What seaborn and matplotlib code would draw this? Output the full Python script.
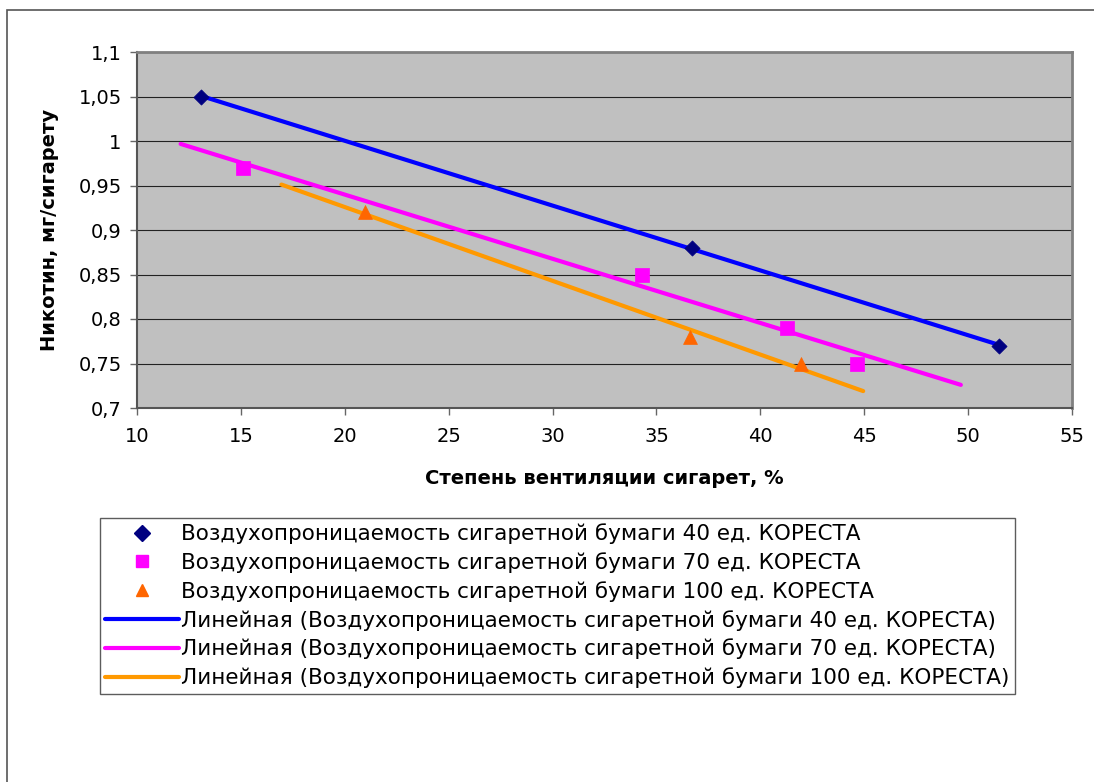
import numpy as np
import pandas as pd
import matplotlib
matplotlib.use("Agg")
import matplotlib.pyplot as plt
import seaborn as sns
from matplotlib.lines import Line2D
from matplotlib.patches import Rectangle

# Data
vent_40 = [13.1, 36.7, 51.5]
nic_40 = [1.05, 0.88, 0.77]
vent_70 = [15.1, 34.3, 41.3, 44.65]
nic_70 = [0.97, 0.85, 0.79, 0.75]
vent_100 = [20.95, 36.6, 41.95]
nic_100 = [0.92, 0.78, 0.75]

# trend line extent (Excel forecast backward / forward)
trend_back = [0, 3, 4]
trend_fwd = [0, 5, 3]

series_names = [
    "Воздухопроницаемость сигаретной бумаги 40 ед. КОРЕСТА",
    "Воздухопроницаемость сигаретной бумаги 70 ед. КОРЕСТА",
    "Воздухопроницаемость сигаретной бумаги 100 ед. КОРЕСТА",
]
x_ticks = [10, 15, 20, 25, 30, 35, 40, 45, 50, 55]
y_ticks = [0.7, 0.75, 0.8, 0.85, 0.9, 0.95, 1.0, 1.05, 1.1]
y_tick_labels = ["0,7", "0,75", "0,8", "0,85", "0,9", "0,95", "1", "1,05", "1,1"]

marker_colors = ["#000080", "#FF00FF", "#FF6600"]
line_colors = ["#0000FF", "#FF00FF", "#FF9900"]
markers = ["D", "s", "^"]
marker_sizes = [60, 110, 100]

sns.set_style("white")
plt.rcParams['font.family'] = ['DejaVu Sans']
plt.rcParams['text.color'] = 'black'
plt.rcParams['axes.labelcolor'] = 'black'
plt.rcParams['xtick.labelcolor'] = 'black'
plt.rcParams['ytick.labelcolor'] = 'black'

fig = plt.figure(figsize=(10.94, 7.82), dpi=100)
ax = fig.add_axes([137 / 1094, 1 - 408 / 782, (1072 - 137) / 1094, (408 - 52) / 782])
ax.set_facecolor("#C0C0C0")

# outer chart frame (cropped on right and bottom)
fig.patches.append(Rectangle((7 / 1094, -0.1), 1.2, 1 - 10 / 782 + 0.1,
                             transform=fig.transFigure, fill=False,
                             edgecolor="#555555", linewidth=1.2))

xs_all = [vent_40, vent_70, vent_100]
ys_all = [nic_40, nic_70, nic_100]

for i in range(3):
    df = pd.DataFrame({"x": xs_all[i], "y": ys_all[i]})
    k, b = np.polyfit(df["x"], df["y"], 1)
    x0 = df["x"].min() - trend_back[i]
    x1 = df["x"].max() + trend_fwd[i]
    trend = pd.DataFrame({"x": [x0, x1], "y": [k * x0 + b, k * x1 + b]})
    sns.lineplot(data=trend, x="x", y="y", ax=ax, color=line_colors[i],
                 linewidth=3, zorder=3)
    sns.scatterplot(data=df, x="x", y="y", ax=ax, marker=markers[i],
                    color=marker_colors[i], s=marker_sizes[i],
                    edgecolor=marker_colors[i], linewidth=0.5, zorder=4)

ax.set_xlim(10, 55)
ax.set_ylim(0.7, 1.1)
ax.set_xticks(x_ticks)
ax.set_yticks(y_ticks)
ax.set_yticklabels(y_tick_labels)
ax.tick_params(axis="both", direction="out", length=5, width=1, color="#666666",
               labelsize=14, left=True, bottom=True)
ax.tick_params(axis="x", pad=9)
ax.tick_params(axis="y", pad=6)
ax.yaxis.grid(True, color="#222222", linewidth=0.8)
ax.xaxis.grid(False)
ax.set_axisbelow(True)
for side in ["top", "right"]:
    ax.spines[side].set_color("#808080")
    ax.spines[side].set_linewidth(2)
for side in ["left", "bottom"]:
    ax.spines[side].set_color("#555555")
    ax.spines[side].set_linewidth(1.5)

ax.set_xlabel("Степень вентиляции сигарет, %", fontsize=14, fontweight="bold",
              labelpad=16)
ax.set_ylabel("Никотин, мг/сигарету", fontsize=14, fontweight="bold", labelpad=14)

handles = []
labels = []
for i in range(3):
    handles.append(Line2D([], [], linestyle="none", marker=markers[i],
                          color=marker_colors[i], markersize=8))
    labels.append(series_names[i])
for i in range(3):
    handles.append(Line2D([], [], color=line_colors[i], linewidth=3))
    labels.append("Линейная (" + series_names[i] + ")")

leg = fig.legend(handles, labels, loc="upper left",
                 bbox_to_anchor=(100 / 1094, 1 - 518 / 782),
                 fontsize=15.5, frameon=True, fancybox=False, shadow=False,
                 borderpad=0.25, labelspacing=0.37, handlelength=3.4,
                 handletextpad=0.12, borderaxespad=0)
leg.get_frame().set_edgecolor("#333333")
leg.get_frame().set_linewidth(1)

plt.savefig("out.png", dpi=100)
plt.close()
